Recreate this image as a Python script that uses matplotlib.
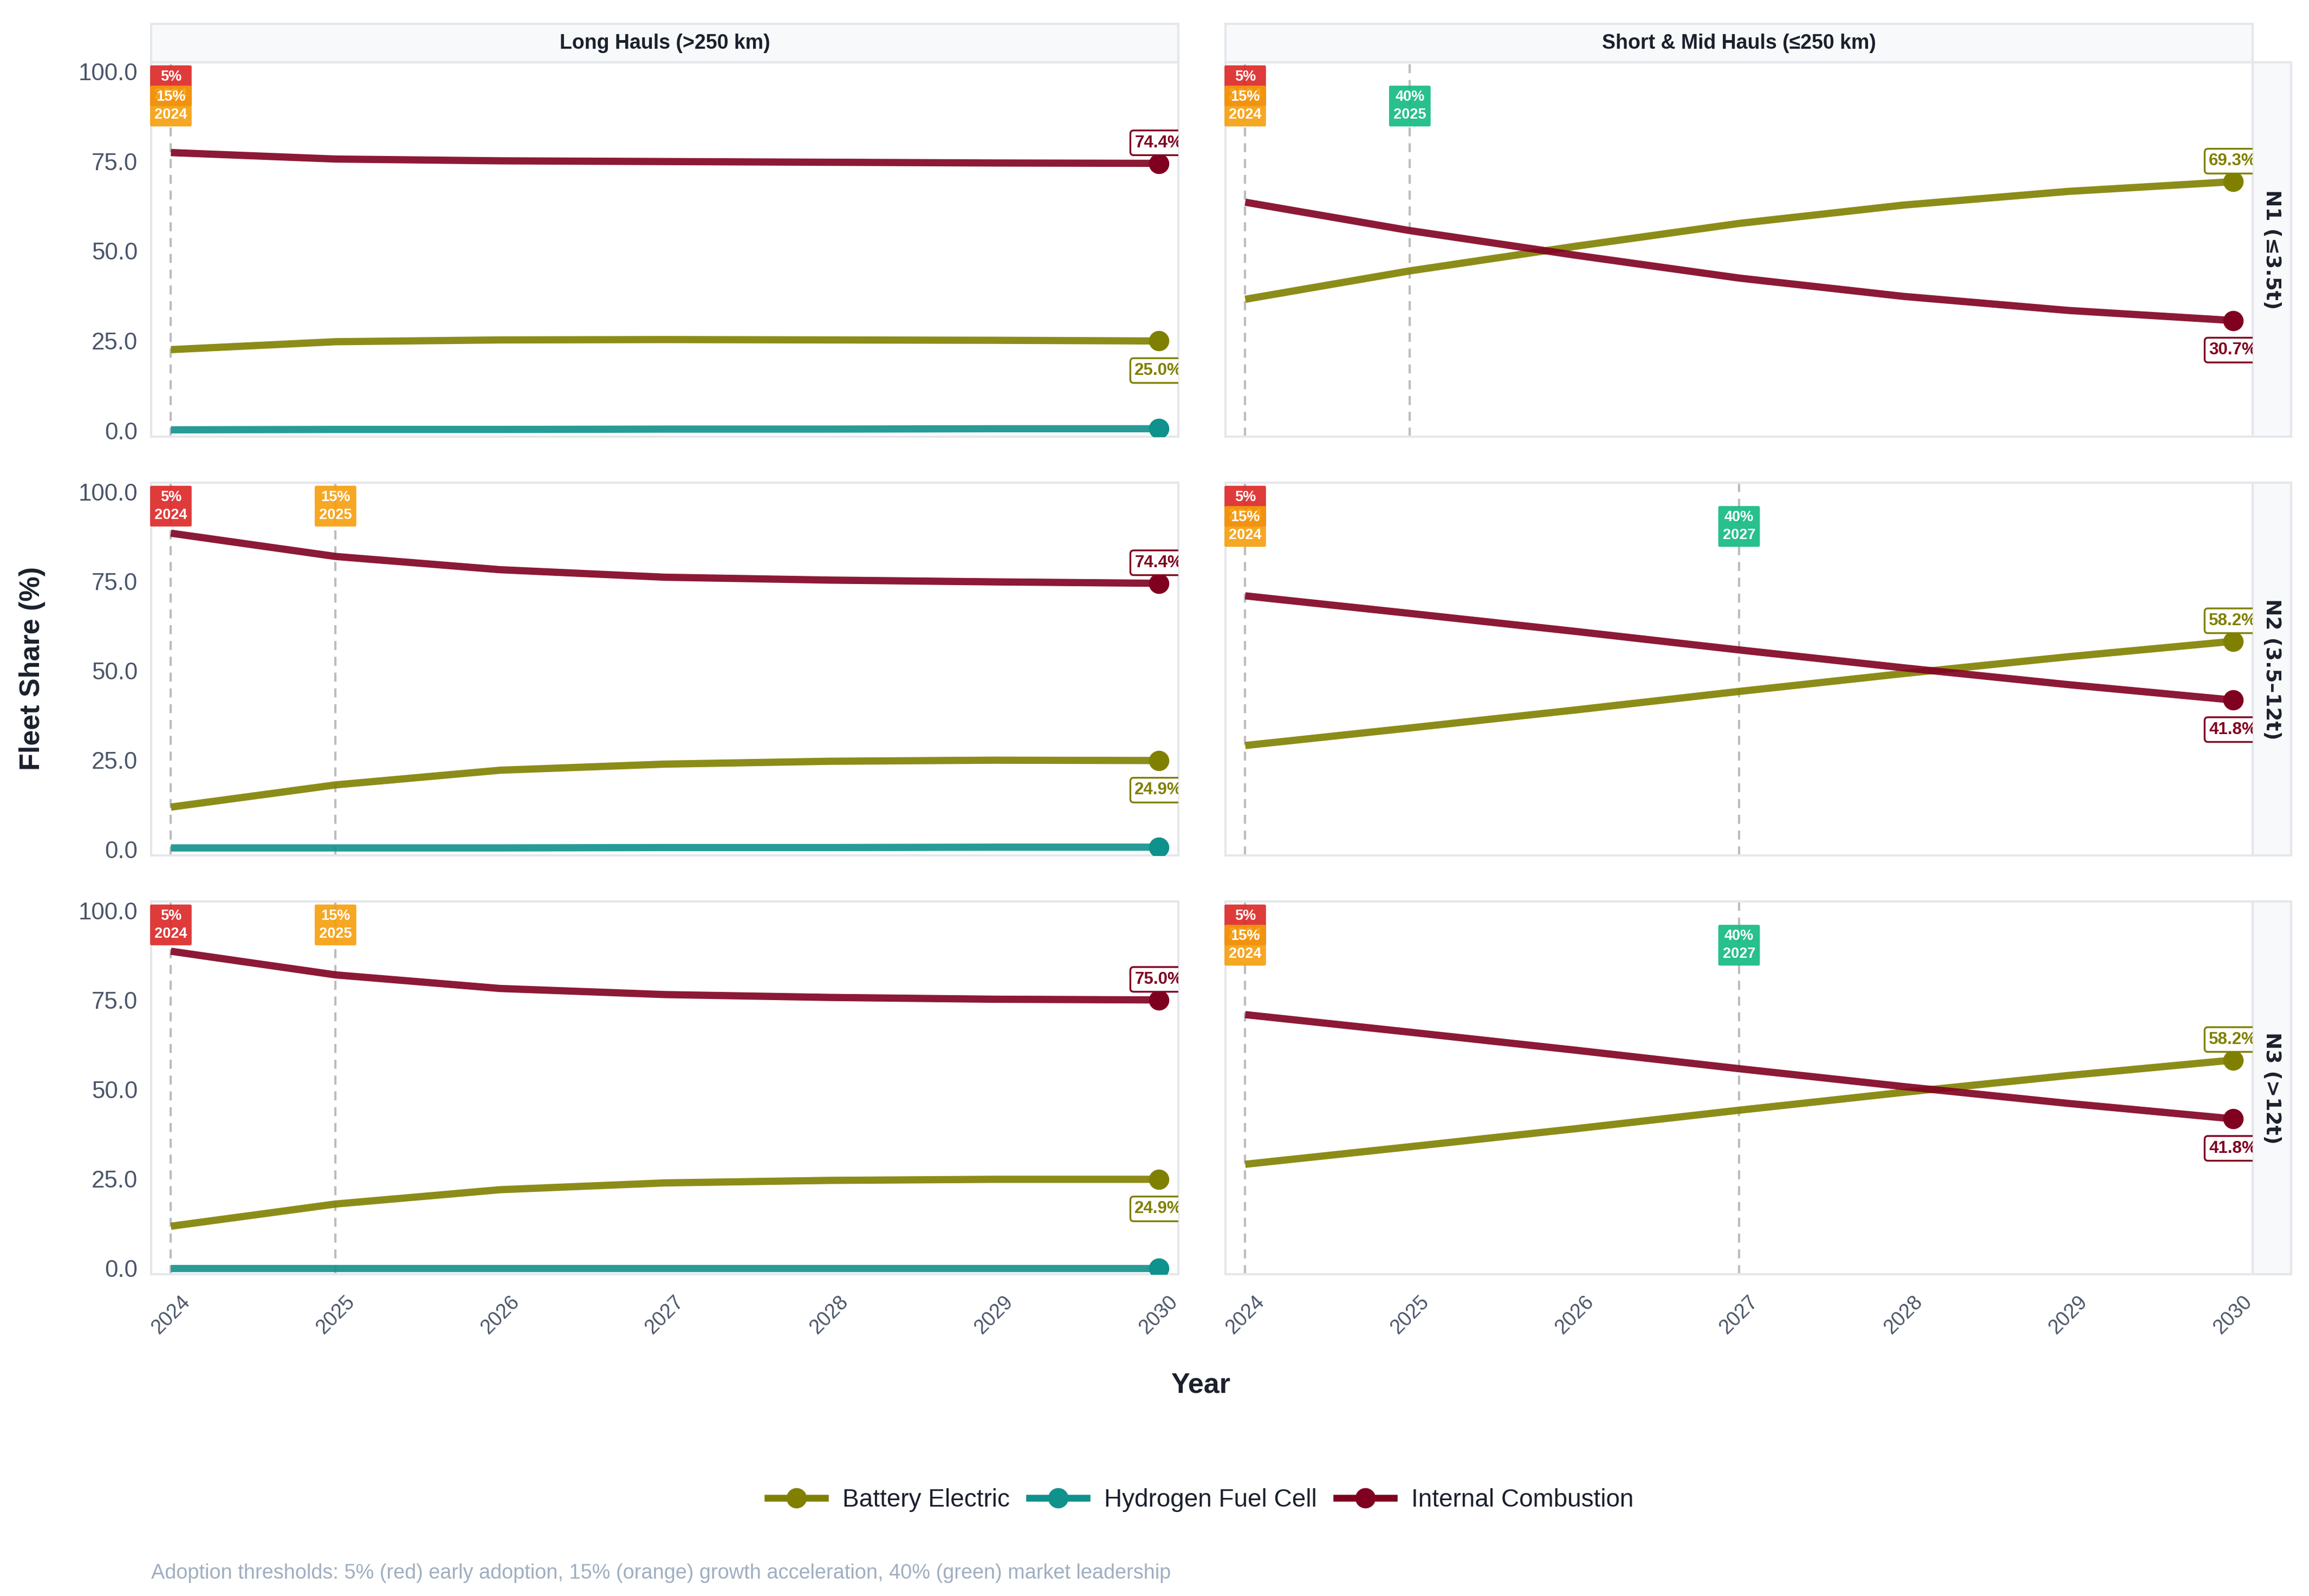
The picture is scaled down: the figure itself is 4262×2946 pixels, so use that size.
import matplotlib.pyplot as plt
from matplotlib.lines import Line2D

plt.rcParams['font.family'] = ['Liberation Sans', 'DejaVu Sans']

years = [2024, 2025, 2026, 2027, 2028, 2029, 2030]
haul_titles = ['Long Hauls (>250 km)', 'Short & Mid Hauls (≤250 km)']
class_titles = ['N1 (≤3.5t)', 'N2 (3.5–12t)', 'N3 (>12t)']
series_names = ['Battery Electric', 'Hydrogen Fuel Cell', 'Internal Combustion']

# fleet share (%) per panel
long_n1_bev = [22.6, 24.8, 25.3, 25.4, 25.3, 25.2, 25.0]
long_n1_h2 = [0.3, 0.4, 0.4, 0.5, 0.5, 0.6, 0.6]
long_n1_ice = [77.4, 75.6, 75.1, 74.9, 74.7, 74.5, 74.4]

long_n2_bev = [11.9, 18.1, 22.2, 23.9, 24.7, 25.0, 24.9]
long_n2_h2 = [0.5, 0.5, 0.5, 0.6, 0.6, 0.7, 0.7]
long_n2_ice = [88.4, 81.9, 78.2, 76.1, 75.3, 74.8, 74.4]

long_n3_bev = [11.8, 18.0, 22.0, 23.9, 24.6, 24.9, 24.9]
long_n3_h2 = [0.1, 0.1, 0.1, 0.1, 0.1, 0.1, 0.1]
long_n3_ice = [88.6, 82.0, 78.2, 76.5, 75.7, 75.2, 75.0]

short_n1_bev = [36.6, 44.5, 51.3, 57.7, 62.8, 66.6, 69.3]
short_n1_ice = [63.6, 55.7, 48.9, 42.5, 37.4, 33.5, 30.7]

short_n2_bev = [29.1, 34.0, 39.0, 44.2, 49.2, 53.9, 58.2]
short_n2_ice = [70.9, 66.0, 61.0, 55.8, 50.8, 46.1, 41.8]

short_n3_bev = [29.1, 34.0, 39.0, 44.2, 49.2, 53.9, 58.2]
short_n3_ice = [70.9, 66.0, 61.0, 55.8, 50.8, 46.1, 41.8]

# adoption thresholds and the year each panel first reaches them
threshold_pcts = [5, 15, 40]
long_n1_cross = [2024, 2024, None]
long_n2_cross = [2024, 2025, None]
long_n3_cross = [2024, 2025, None]
short_n1_cross = [2024, 2024, 2025]
short_n2_cross = [2024, 2024, 2027]
short_n3_cross = [2024, 2024, 2027]

series_colors = ['#808000', '#0f918c', '#800020']
threshold_colors = ['#dc2626', '#f59e0b', '#10b981']

panels = [
    [(long_n1_bev, long_n1_h2, long_n1_ice, long_n1_cross),
     (short_n1_bev, None, short_n1_ice, short_n1_cross)],
    [(long_n2_bev, long_n2_h2, long_n2_ice, long_n2_cross),
     (short_n2_bev, None, short_n2_ice, short_n2_cross)],
    [(long_n3_bev, long_n3_h2, long_n3_ice, long_n3_cross),
     (short_n3_bev, None, short_n3_ice, short_n3_cross)],
]

W, H = 4262, 2946
fig = plt.figure(figsize=(W / 300, H / 300), dpi=300)

col_left = [279 / W, 2262 / W]
col_w = 1896 / W
row_top = [115, 891, 1664]
row_h = [691, 688, 688]
dark = '#1a202c'
border = '#e5e7eb'
strip_bg = '#f8f9fa'


def style_strip(ax):
    ax.set_facecolor(strip_bg)
    ax.set_xticks([])
    ax.set_yticks([])
    for s in ax.spines.values():
        s.set_color(border)
        s.set_linewidth(1)


for c in range(2):
    sax = fig.add_axes([col_left[c], 1 - 115 / H, col_w, 71 / H])
    style_strip(sax)
    sax.text(0.5, 0.5, haul_titles[c], ha='center', va='center',
             fontsize=9, fontweight='bold', color=dark, transform=sax.transAxes)

for r in range(3):
    bottom = 1 - (row_top[r] + row_h[r]) / H
    height = row_h[r] / H
    rax = fig.add_axes([4158 / W, bottom, 71 / W, height])
    style_strip(rax)
    rax.text(0.5, 0.5, class_titles[r], ha='center', va='center', rotation=270,
             fontsize=9, fontweight='bold', color=dark, family=['DejaVu Sans'],
             transform=rax.transAxes)

    for c in range(2):
        bev, h2, ice, cross = panels[r][c]
        ax = fig.add_axes([col_left[c], bottom, col_w, height])
        ax.set_xlim(2023.88, 2030.12)
        ax.set_ylim(-1.6, 102.5)
        for s in ax.spines.values():
            s.set_color(border)
            s.set_linewidth(1)

        # threshold markers
        offset = 0
        prev = None
        drawn = set()
        for pct, yr, tc in zip(threshold_pcts, cross, threshold_colors):
            if yr is None:
                continue
            if yr == prev:
                offset += 1
            prev = yr
            if yr not in drawn:
                ax.axvline(yr, color='#bdbdbd', ls=(0, (4, 3)), lw=1, zorder=1)
                drawn.add(yr)
            ax.annotate(f'{pct}%\n{yr}', xy=(yr, 1), xycoords=('data', 'axes fraction'),
                        xytext=(0, -3.3 - offset * 9), textcoords='offset points',
                        ha='center', va='top', fontsize=6.5, fontweight='bold',
                        color='white', linespacing=1.35, zorder=7,
                        bbox=dict(boxstyle='round,pad=0.3,rounding_size=0.1',
                                  fc=tc, ec='none', alpha=0.9))

        series = [bev, h2, ice]
        for vals, col in zip(series, series_colors):
            if vals is None:
                continue
            ax.plot(years, vals, color=col, lw=3.2, alpha=0.9, zorder=3,
                    solid_capstyle='butt')
            ax.plot(years[-1], vals[-1], 'o', color=col, ms=8, zorder=4)

        # end-value labels for battery and combustion
        for vals, other, col in [(bev, ice, series_colors[0]), (ice, bev, series_colors[2])]:
            above = vals[-1] >= other[-1]
            ax.annotate(f'{vals[-1]:.1f}%', xy=(years[-1], vals[-1]),
                        xytext=(0, 5.5 if above else -9.5), textcoords='offset points',
                        ha='center', va='bottom' if above else 'top',
                        fontsize=7.5, fontweight='bold', color=col, zorder=6,
                        clip_on=True,
                        bbox=dict(boxstyle='round,pad=0.25,rounding_size=0.2',
                                  fc='white', ec=col, lw=0.8))

        ax.set_yticks([0, 25, 50, 75, 100])
        ax.set_xticks(years)
        ax.tick_params(length=0, colors='#4a5568', pad=6)
        if c == 0:
            ax.set_yticklabels([f'{v:.1f}' for v in [0, 25, 50, 75, 100]], fontsize=10.5)
        else:
            ax.set_yticklabels([])
        if r == 2:
            ax.set_xticklabels([str(y) for y in years], rotation=45, ha='center',
                               fontsize=9)
            ax.tick_params(axis='x', pad=8)
        else:
            ax.set_xticklabels([])

fig.text(0.014, 0.581, 'Fleet Share (%)', rotation=90, ha='center', va='center',
         fontsize=12.5, fontweight='bold', color=dark)
fig.text(0.52, 0.132, 'Year', ha='center', va='center',
         fontsize=12.5, fontweight='bold', color=dark)

handles = [Line2D([], [], color=col, lw=3, marker='o', ms=8) for col in series_colors]
fig.legend(handles, series_names, loc='center', bbox_to_anchor=(0.52, 0.06), ncol=3,
           frameon=False, fontsize=11, handlelength=2.3, handletextpad=0.7,
           columnspacing=0.8, labelcolor=dark)

fig.text(279 / W, 0.0143,
         'Adoption thresholds: 5% (red) early adoption, 15% (orange) growth acceleration, '
         '40% (green) market leadership',
         ha='left', va='center', fontsize=9.1, color='#a0aec0')

fig.savefig('out.png', dpi=300, facecolor='white')
